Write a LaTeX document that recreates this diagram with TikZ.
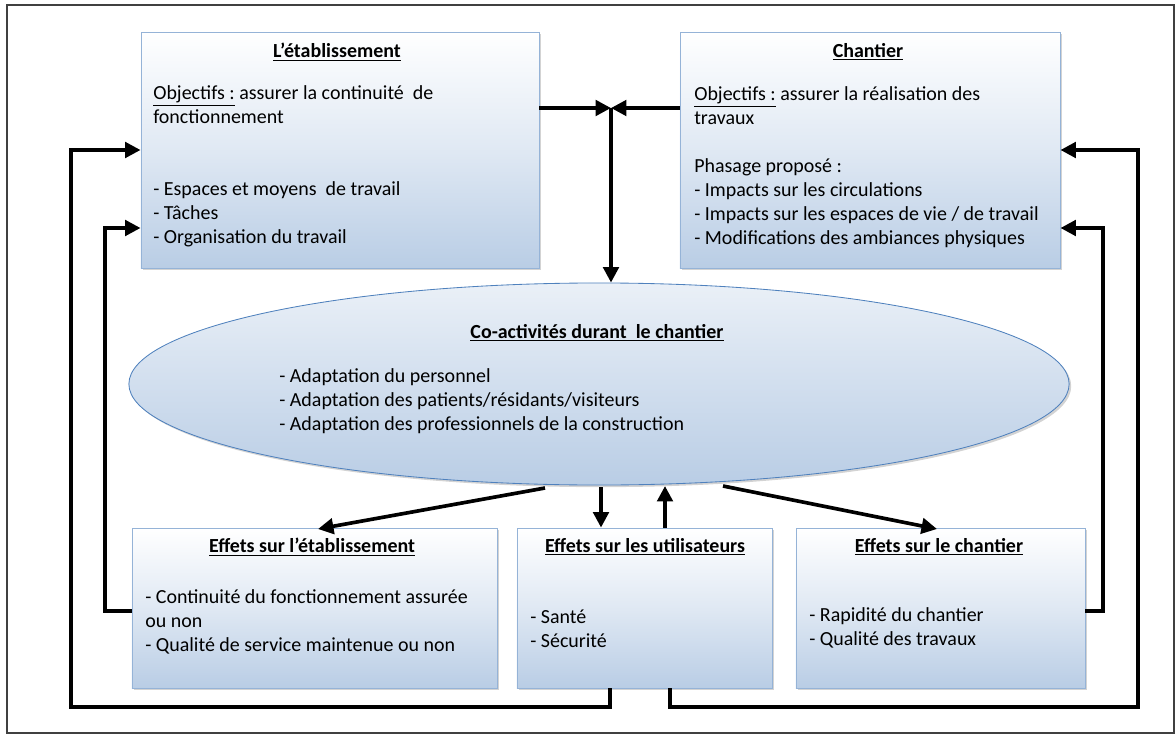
\documentclass[tikz,border=0pt]{standalone}
\usepackage{fontspec}
\setmainfont{Carlito}
\usepackage{tikz}
\usetikzlibrary{calc,positioning,arrows.meta,shapes,shadows}

\definecolor{boxblue}{RGB}{185,205,229}
\definecolor{edgeblue}{RGB}{149,179,215}
\definecolor{ellblue}{RGB}{79,129,189}

\begin{document}
\begin{tikzpicture}
          [x=0.025cm,y=-0.025cm,
           box/.style={rectangle,draw=edgeblue,line width=0.6pt,
             top color=white,bottom color=boxblue,middle color=boxblue!45,
             drop shadow={shadow xshift=1.5pt,shadow yshift=-1.5pt,opacity=0.35}},
           bubble/.style={ellipse,draw=ellblue,line width=0.6pt,
             top color=boxblue!30,bottom color=boxblue,
             drop shadow={shadow xshift=1.5pt,shadow yshift=-1.5pt,opacity=0.35}},
           title/.style={font=\fontsize{14.2}{17}\selectfont\bfseries},
           body/.style={font=\fontsize{14.2}{17}\selectfont,align=left,anchor=base west,inner sep=0pt},
           link/.style={line width=2.6pt},
           >={Triangle[length=11pt,width=11pt]}
          ]
          \useasboundingbox (0,0) rectangle (1176,735);
          \draw[black!75,line width=0.8pt] (7,5) rectangle (1174,733);
          % boxes
          \node[box,minimum width=9.95cm,minimum height=5.9cm] (etab) at (340,150) {};
          \node[box,minimum width=9.5cm,minimum height=5.9cm] (chant) at (870,150) {};
          \node[bubble,minimum width=23.5cm,minimum height=5.05cm] (coact) at (599,384) {};
          \node[box,minimum width=9.125cm,minimum height=4cm] (effetab) at (314.5,608) {};
          \node[box,minimum width=6.375cm,minimum height=4cm] (util) at (644.5,608) {};
          \node[box,minimum width=7.225cm,minimum height=4cm] (effchant) at (940.5,608) {};
          % texts (body nodes sit on the baseline of their last line)
          \node[title] (etabT) at (337,52) {\underline{L’établissement}};
          \node[body] (etabB) at (153,243) {\underline{Objectifs :} assurer la continuité\ \ de\\
            fonctionnement\\ \mbox{}\\ \mbox{}\\
            - Espaces et moyens\ \ de travail\\ - Tâches\\ - Organisation du travail};
          \node[title] (chantT) at (868,52) {\underline{Chantier}};
          \node[body] (chantB) at (694,244) {\underline{Objectifs :} assurer la réalisation des\\
            travaux\\ \mbox{}\\ Phasage proposé\ :\\ - Impacts sur les circulations\\
            - Impacts sur les espaces de vie / de travail\\ - Modifications des ambiances physiques};
          \node[title] (coactT) at (597,333) {\underline{Co-activités durant\ \ le chantier}};
          \node[body] (coactB) at (279,430) {- Adaptation du personnel\\
            - Adaptation des patients/résidants/visiteurs\\
            - Adaptation des professionnels de la construction};
          \node[title] (effetabT) at (312,547) {\underline{Effets sur l’établissement}};
          \node[body] (effetabB) at (145,651) {- Continuité du fonctionnement assurée\\
            ou non\\ - Qualité de service maintenue ou non};
          \node[title] (utilT) at (645,547) {\underline{Effets sur les utilisateurs}};
          \node[body] (utilB) at (530,647) {- Santé\\ - Sécurité};
          \node[title] (effchantT) at (939,547) {\underline{Effets sur le chantier}};
          \node[body] (effchantB) at (809,645) {- Rapidité du chantier\\ - Qualité des travaux};
          % connectors
          \coordinate (junc) at (611,108);
          \coordinate (loopL) at (71,707);
          \coordinate (loopR) at (1138,707);
          \draw[->,link] (etab.east |- junc) -- (junc);
          \draw[->,link] (chant.west |- junc) -- (junc);
          \draw[->,link] (junc) -- (junc |- coact.north);
          \draw[->,link] (545,488) -- (318,529);
          \draw[->,link] (723,486) -- (937,529);
          \draw[->,link] (601,487) -- (601,0 |- util.north);
          \draw[->,link] (665,0 |- util.north) -- (665,486);
          \draw[->,link] ($(util.south)+(-34.5,0)$) |- (loopL) |- (etab.west |- 0,150);
          \draw[->,link] ($(util.south)+(25.5,0)$) |- (loopR) |- (chant.east |- 0,150);
          \draw[->,link] (effetab.west |- 0,611) -| (105,228) -- (etab.west |- 0,228);
          \draw[->,link] (effchant.east |- 0,611) -| (1103,228) -- (chant.east |- 0,228);
\end{tikzpicture}
\end{document}
